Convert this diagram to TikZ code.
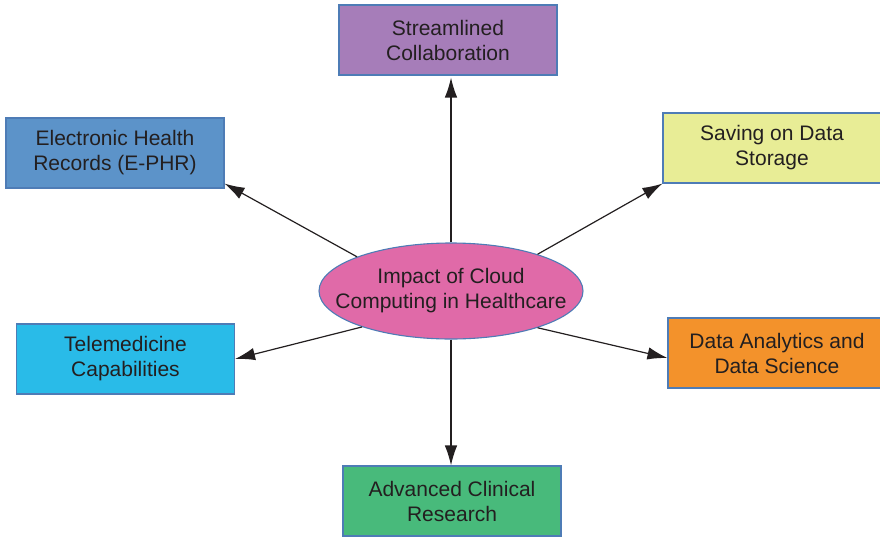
\documentclass[tikz,border=0pt]{standalone}
\usepackage{fontspec}
\setmainfont{Liberation Sans}
\usetikzlibrary{arrows.meta,calc,shapes.geometric}

\definecolor{txt}{RGB}{35,31,32}
\definecolor{edge}{RGB}{78,124,182}
\definecolor{cpurple}{RGB}{166,125,185}
\definecolor{cblue}{RGB}{92,147,201}
\definecolor{cyellow}{RGB}{232,237,150}
\definecolor{ccyan}{RGB}{41,187,232}
\definecolor{corange}{RGB}{243,146,43}
\definecolor{cgreen}{RGB}{72,186,123}
\definecolor{cpink}{RGB}{224,106,168}

\tikzset{
  label text/.style={align=center, text=txt, font=\fontsize{21}{25}\selectfont},
  topic/.style={draw=edge, line width=1.1pt, minimum width=218pt, minimum height=70pt,
    inner sep=0pt, label text},
  hub/.style={ellipse, draw=edge, line width=1.1pt, fill=cpink, minimum width=264pt,
    minimum height=96pt, inner sep=0pt},
  link/.style={draw=txt, line width=1.2pt, -{Latex[length=20pt,width=12.5pt]}}
}

\begin{document}
\begin{tikzpicture}[x=1pt,y=-1pt]
  \useasboundingbox (0,0) rectangle (880,538);
  \begin{scope}
    \clip (0,0) rectangle (880,538);

    % central hub: fixed-size ellipse with its caption on top
    \node[hub] (imp) at (451,291) {};
    \node[label text] (imptext) at (imp.center) {Impact of Cloud\\Computing in Healthcare};

    \node[topic, fill=cpurple] (col) at (448,40)  {Streamlined\\Collaboration};
    \node[topic, fill=cblue]   (ehr) at (115,153) {Electronic Health\\Records (E-PHR)};
    \node[topic, fill=cyellow] (sav) at (772,148) {Saving on Data\\Storage};
    \node[topic, fill=ccyan]   (tel) at (125.5,359) {Telemedicine\\Capabilities};
    \node[topic, fill=corange] (dat) at (777,353) {Data Analytics and\\Data Science};
    \node[topic, fill=cgreen]  (adv) at (452,501) {Advanced Clinical\\Research};

    \coordinate (ehrtip) at ($(ehr.south east)+(0,-5)$);
    \coordinate (dattip) at ($(dat.west)+(0,5)$);
    \coordinate (coltip) at ($(imp.north |- col.south)+(0,2)$);

    \draw[link] (imp.north) -- (coltip);
    \draw[link] (imp.160.5) -- (ehrtip);
    \draw[link] (imp.23.8) -- (sav.south west);
    \draw[link] (imp.202.2) -- (tel.east);
    \draw[link] (imp.337.5) -- (dattip);
    \draw[link] (imp.south) -- (imp.south |- adv.north);
  \end{scope}
\end{tikzpicture}
\end{document}
